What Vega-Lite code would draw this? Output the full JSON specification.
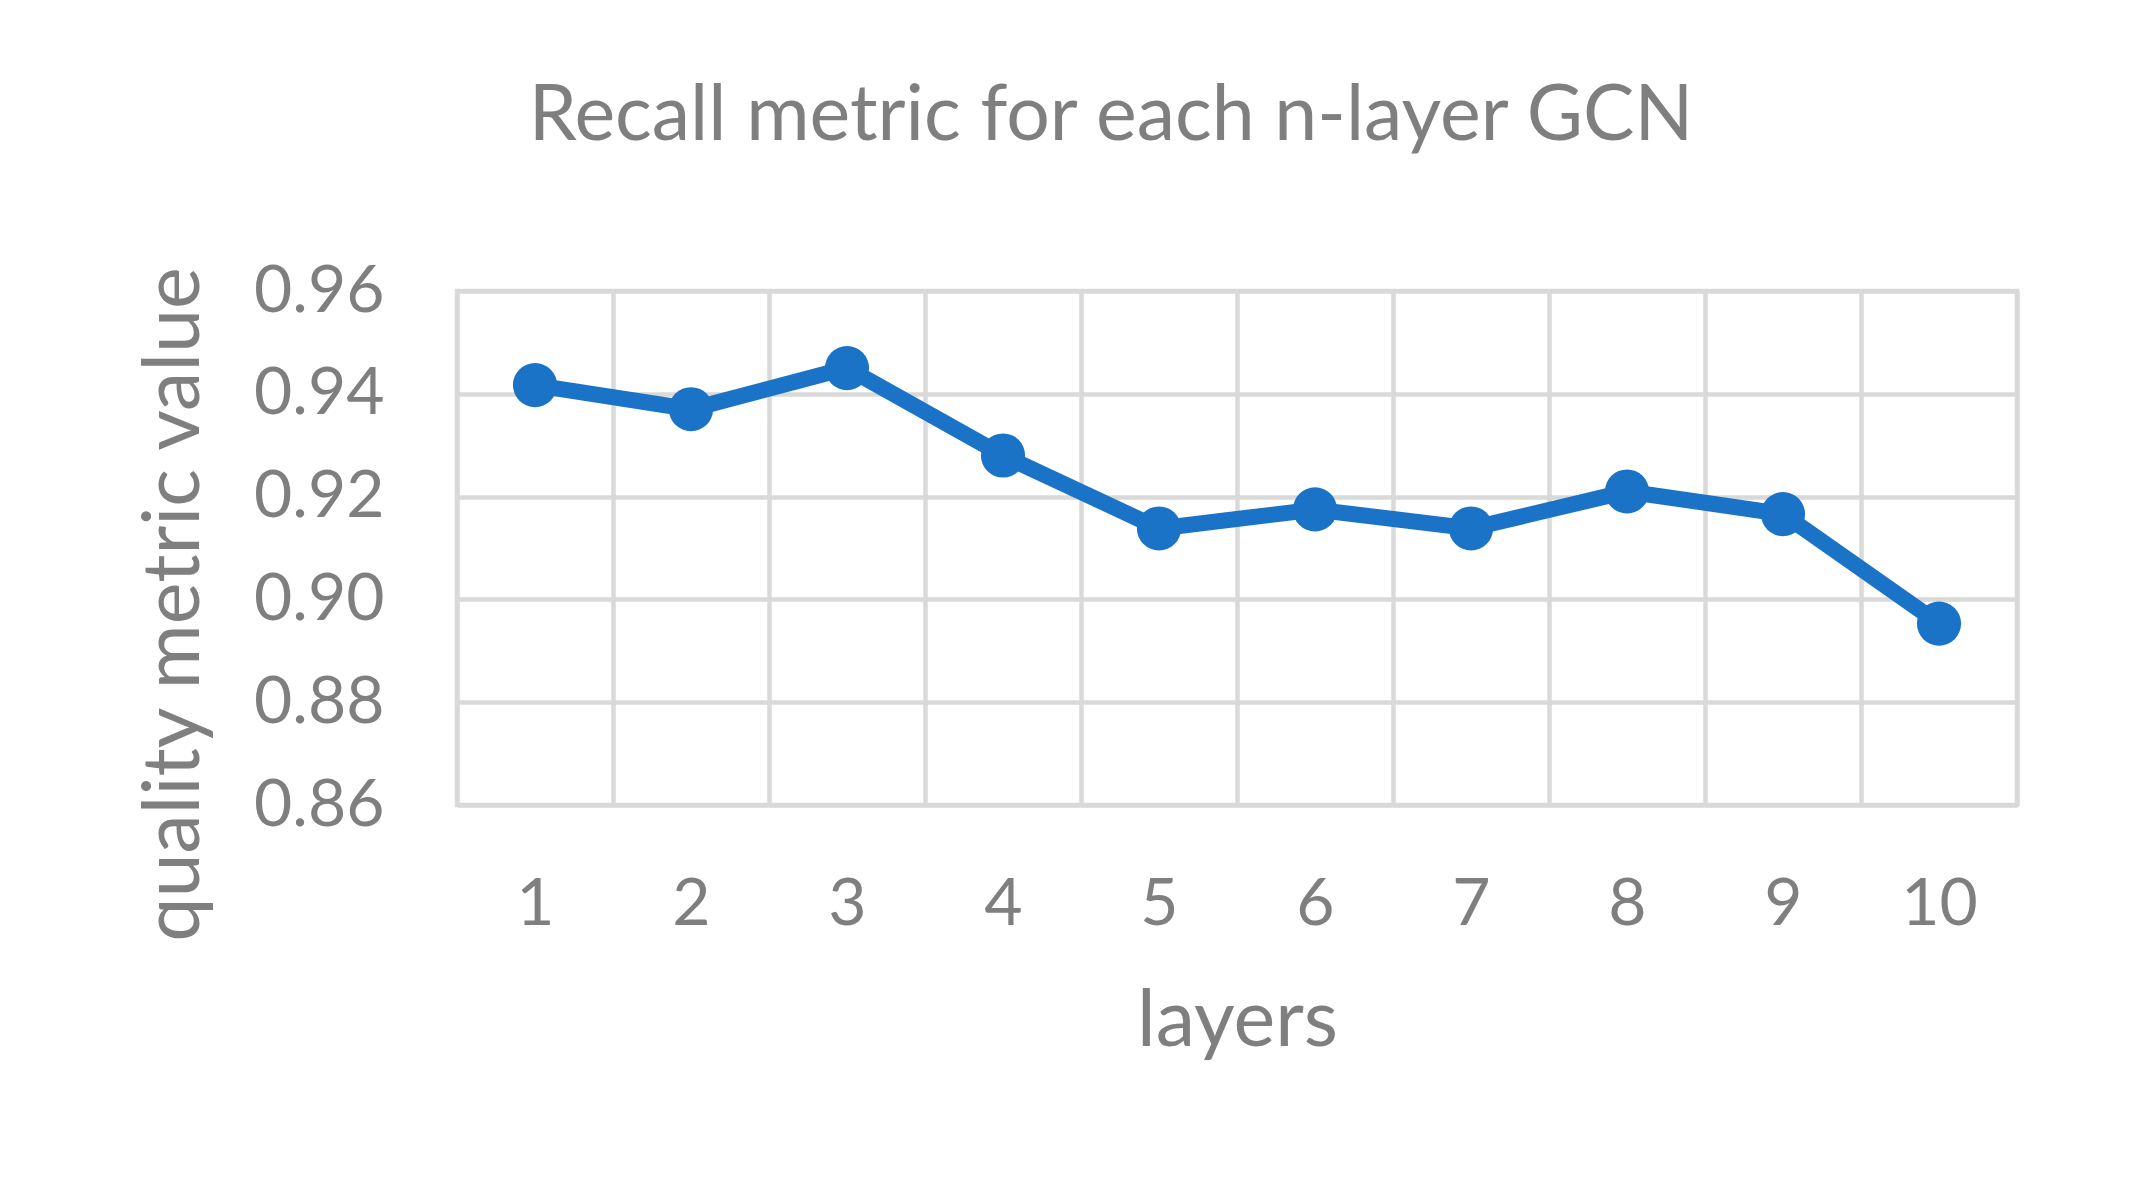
{
  "$schema": "https://vega.github.io/schema/vega-lite/v6.json",
  "width": 1560,
  "height": 514,
  "autosize": {"type": "none"},
  "padding": {"left": 457, "top": 291, "right": 112, "bottom": 396},
  "background": "white",
  "title": {
    "text": "Recall metric for each n-layer GCN",
    "font": "Lato",
    "fontSize": 77,
    "fontWeight": "normal",
    "color": "#7f7f7f",
    "anchor": "middle",
    "baseline": "alphabetic",
    "offset": 41,
    "dx": -126
  },
  "data": {
    "values": [
      {"layers": 1, "recall": 0.9417},
      {"layers": 2, "recall": 0.937},
      {"layers": 3, "recall": 0.945},
      {"layers": 4, "recall": 0.928},
      {"layers": 5, "recall": 0.9138},
      {"layers": 6, "recall": 0.9175},
      {"layers": 7, "recall": 0.9138},
      {"layers": 8, "recall": 0.921},
      {"layers": 9, "recall": 0.9166},
      {"layers": 10, "recall": 0.8953}
    ]
  },
  "encoding": {
    "x": {
      "field": "layers",
      "type": "ordinal",
      "scale": {"paddingInner": 0, "paddingOuter": 0},
      "axis": {
        "title": "layers",
        "labelAngle": 0,
        "tickBand": "extent",
        "grid": true,
        "ticks": false,
        "domain": false,
        "labelPadding": 67,
        "titleY": 240,
        "titleBaseline": "alphabetic"
      }
    },
    "y": {
      "field": "recall",
      "type": "quantitative",
      "scale": {"domain": [0.86, 0.96], "zero": false, "nice": false},
      "axis": {
        "title": "quality metric value",
        "values": [0.86, 0.88, 0.9, 0.92, 0.94, 0.96],
        "format": ".2f",
        "grid": true,
        "ticks": false,
        "domain": false,
        "labelPadding": 73,
        "titleX": -283,
        "titleY": 313,
        "titleAngle": -90,
        "titleAlign": "center",
        "titleBaseline": "middle"
      }
    }
  },
  "layer": [
    {"mark": {"type": "line", "color": "#1a73c7", "strokeWidth": 16}},
    {"mark": {"type": "point", "filled": true, "opacity": 1, "color": "#1a73c7", "size": 1950}}
  ],
  "config": {
    "view": {"stroke": "#d9d9d9", "strokeWidth": 4.5},
    "axis": {
      "gridColor": "#d9d9d9",
      "gridWidth": 4.5,
      "gridOpacity": 1,
      "labelFont": "Lato",
      "labelFontSize": 66,
      "labelColor": "#7f7f7f",
      "titleFont": "Lato",
      "titleFontSize": 79,
      "titleFontWeight": "normal",
      "titleColor": "#7f7f7f"
    }
  }
}
